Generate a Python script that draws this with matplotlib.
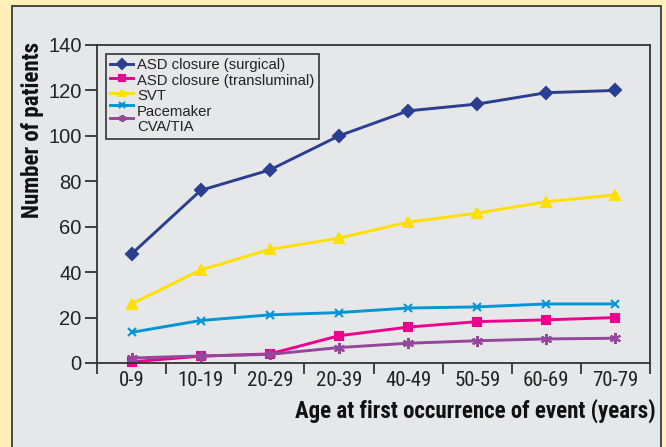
import matplotlib
matplotlib.use("Agg")
import matplotlib.pyplot as plt
from matplotlib.patches import Rectangle
from matplotlib.legend_handler import HandlerLine2D
from matplotlib import font_manager as fm

names = {f.name for f in fm.fontManager.ttflist}


def pick(cands):
    for c in cands:
        if c in names:
            return c
    return "DejaVu Sans"


categories = ["0-9", "10-19", "20-29", "20-39", "40-49", "50-59", "60-69", "70-79"]
asd_surgical = [48, 76, 85, 100, 111, 114, 119, 120]
asd_translum = [0.5, 3, 4, 12, 15.8, 18.2, 19, 20]
svt = [26, 41, 50, 55, 62, 66, 71, 74]
pacemaker = [13.5, 18.7, 21.2, 22.2, 24.2, 24.7, 26, 26]
cva_tia = [2.2, 3.1, 3.8, 6.8, 8.7, 9.8, 10.6, 10.9]
yticks = [0, 20, 40, 60, 80, 100, 120, 140]

narrow = pick(["Roboto Condensed", "Archivo Narrow", "Liberation Sans Narrow",
               "Open Sans Condensed", "PT Sans Narrow", "Fira Sans Condensed"])
regular = pick(["Liberation Sans", "Roboto"])
plt.rcParams['font.family'] = [regular, 'DejaVu Sans']

fig = plt.figure(figsize=(6.66, 4.47), dpi=100)
fig.patch.set_facecolor("#FEF0B8")
panel = Rectangle((12/666, -0.05), (661-12)/666, 1.05 - 6/447, transform=fig.transFigure,
                  facecolor="#E6E7E9", edgecolor="#3A3A3A", linewidth=1.3, zorder=-5)
fig.patches.append(panel)

ax = fig.add_axes([97/666, 1-363/447, (650-97)/666, (363-45)/447])
ax.set_zorder(2)
ax.set_facecolor("#E6E7E9")
x = list(range(len(categories)))

series = [
    ("ASD closure (surgical)", asd_surgical, "#2A3F8F", "D", 6),
    ("ASD closure (transluminal)", asd_translum, "#EC008C", "s", 6),
    ("SVT", svt, "#FFE000", "^", 7),
    ("Pacemaker", pacemaker, "#0096D6", "x", 6),
    ("CVA/TIA", cva_tia, "#95479B", (6, 2, 0), 8),
]
lines = []
for lab, vals, col, mk, ms in series:
    l, = ax.plot(x, vals, color=col, marker=mk, markersize=ms, linewidth=2.1,
                 markeredgecolor=col, markeredgewidth=1.5, label=lab, clip_on=False)
    lines.append(l)

ax.set_xlim(-0.5, len(categories) - 0.5)
ax.set_ylim(0, 140)
ax.set_yticks(yticks)
ax.set_yticklabels([str(v) for v in yticks], fontsize=14.5, color="#222222")
ax.set_xticks([i - 0.5 for i in range(len(categories) + 1)])
ax.set_xticklabels([])
ax.set_xticks(x, minor=True)
ax.set_xticklabels(categories, minor=True, fontsize=15, family=[narrow, 'DejaVu Sans'],
                   color="#222222")
ax.tick_params(axis='x', which='major', direction='out', length=8, width=1.3, color="#333333")
ax.tick_params(axis='x', which='minor', length=0, pad=6)
ax.tick_params(axis='y', direction='out', length=9, width=1.3, color="#333333", pad=2)
for s in ax.spines.values():
    s.set_color("#333333")
    s.set_linewidth(1.3)

ax.set_ylabel("Number of patients", fontsize=16.5, fontweight='bold',
              family=[narrow, 'DejaVu Sans'], color="#111111")
ax.yaxis.set_label_coords(-0.116, (363 - 130) / 318)
ax.yaxis.label.set_verticalalignment('center')
ax.set_xlabel("Age at first occurrence of event (years)", fontsize=16.5, fontweight='bold',
              family=[narrow, 'DejaVu Sans'], color="#111111")
ax.xaxis.set_label_coords(1.011, -0.151)
ax.xaxis.label.set_horizontalalignment('right')
ax.xaxis.label.set_verticalalignment('center')


class OffsetHandler(HandlerLine2D):
    def __init__(self, dy, **kw):
        super().__init__(**kw)
        self.dy = dy

    def create_artists(self, legend, orig_handle, xdescent, ydescent, width, height,
                       fontsize, trans):
        return super().create_artists(legend, orig_handle, xdescent, ydescent - self.dy,
                                      width, height, fontsize, trans)


offsets = [0, 1.8, 2.6, 8, 11.5]
hmap = {l: OffsetHandler(d) for l, d in zip(lines, offsets)}
leg = ax.legend(handles=lines, loc='upper left', bbox_to_anchor=(0.0163, 0.972),
                borderaxespad=0, frameon=True, fancybox=False, edgecolor="#333333",
                facecolor="#E6E7E9", framealpha=1, handlelength=1.5, handletextpad=0.3,
                labelspacing=0.1, borderpad=0.3, handler_map=hmap,
                prop={'family': ['Liberation Sans', 'DejaVu Sans'], 'size': 10.7})
leg.get_frame().set_linewidth(1.2)
for t in leg.get_texts():
    t.set_color("#222222")
for h in leg.legend_handles:
    h.set_markersize(5)

fig.savefig("out.png", dpi=100, facecolor=fig.get_facecolor())
